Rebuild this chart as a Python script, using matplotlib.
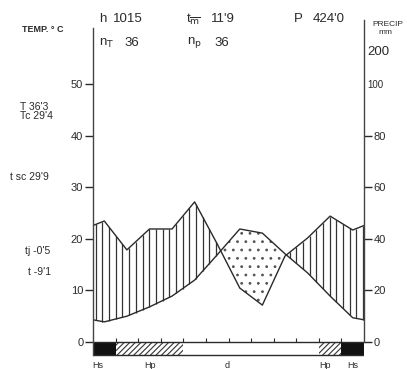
import numpy as np
import matplotlib
matplotlib.use("Agg")
import matplotlib.pyplot as plt
from matplotlib.patches import Rectangle

# ---------------- data ----------------
temp = [3.9, 5.0, 6.8, 8.9, 12.0, 16.9, 21.9, 21.1, 17.1, 13.4, 8.9, 4.7]      # °C
precip = [46.9, 35.7, 43.8, 43.8, 54.3, 38.0, 20.9, 14.3, 33.3, 40.3, 48.8, 43.4]  # mm
frost = ["Hs", "Hp", "Hp", "Hp", "d", "d", "d", "d", "d", "d", "Hp", "Hs"]
frost_labels = ["Hs", "Hp", "d", "Hp", "Hs"]
left_ticks = [0, 10, 20, 30, 40, 50]
right_ticks = [0, 20, 40, 60, 80]
right_extra = [100, 200]
extremes = ["T 36'3", "Tc 29'4", "t sc 29'9", "tj -0'5", "t -9'1"]
station_h = "1015"
station_tm = "11'9"
station_P = "424'0"
station_nT = "36"
station_nP = "36"

# ---------------- figure ----------------
W, H = 407, 369
fig = plt.figure(figsize=(W / 100, H / 100), dpi=100)
plt.rcParams["font.family"] = ["Liberation Sans", "DejaVu Sans"]
plt.rcParams["hatch.linewidth"] = 0.8
INK = "#2a2a2a"

# axes: x 0..12 -> px 93..364 ; y: 0 at px 342, 5.16 px per °C
y0px, kpx = 342.0, 5.16
top_px, bot_px = 18.0, 360.0
ax = fig.add_axes([93 / W, 1 - bot_px / H, (364 - 93) / W, (bot_px - top_px) / H])
ylo, yhi = (y0px - bot_px) / kpx, (y0px - top_px) / kpx
ax.set_xlim(0, 12)
ax.set_ylim(ylo, yhi)
ax.patch.set_alpha(0)


def px(x, y):
    return x / W, 1 - y / H


# curves (edges = mean of first and last month)
xs = np.concatenate([[0], np.arange(12) + 0.5, [12]])
t_arr = np.array(temp)
p_arr = np.array(precip) / 2.0
t_edge = (t_arr[0] + t_arr[-1]) / 2
p_edge = (p_arr[0] + p_arr[-1]) / 2
t_ext = np.concatenate([[t_edge], t_arr, [t_edge]])
p_ext = np.concatenate([[p_edge], p_arr, [p_edge]])

xf = np.linspace(0, 12, 2401)
tf = np.interp(xf, xs, t_ext)
pf = np.interp(xf, xs, p_ext)

# dry period: dotted
ax.fill_between(xf, tf, pf, where=tf >= pf, interpolate=True, facecolor="white",
                edgecolor="#555555", hatch="..", linewidth=0)

# humid period: vertical lines
xv = np.arange(0.12, 12, 0.296)
tv = np.interp(xv, xs, t_ext)
pv = np.interp(xv, xs, p_ext)
m = pv > tv
ax.vlines(xv[m], tv[m], pv[m], color="#333333", linewidth=0.9)

ax.plot(xs, t_ext, color=INK, linewidth=1.0)
ax.plot(xs, p_ext, color=INK, linewidth=1.0)

# frost bar
bar_h = 2.6
fc = {"Hs": "#111111", "Hp": "white", "d": "white"}
hc = {"Hs": None, "Hp": "//////", "d": None}
for i, f in enumerate(frost):
    ax.bar(i + 0.5, bar_h, bottom=-bar_h, width=1.0, color=fc[f], edgecolor="#333333",
           hatch=hc[f], linewidth=0)
ax.add_patch(Rectangle((0, -bar_h), 12, bar_h, fill=False, edgecolor=INK, linewidth=1.0))
ax.vlines(np.arange(1, 12), 0, 0.8, color=INK, linewidth=0.8)

# spines / ticks
for s in ["top", "bottom", "right"]:
    ax.spines[s].set_visible(False)
ax.spines["left"].set_bounds(-bar_h, (y0px - 28) / kpx)
ax.spines["left"].set_color("#444444")
ax.spines["left"].set_linewidth(1.0)
ax.set_xticks([])
ax.set_yticks(left_ticks)
ax.set_yticklabels([str(v) for v in left_ticks])
ax.tick_params(axis="y", length=6, width=1, color=INK, pad=1, labelsize=8, labelcolor=INK)

ax2 = ax.twinx()
ax2.set_ylim(ylo, yhi)
for s in ["top", "bottom", "left"]:
    ax2.spines[s].set_visible(False)
ax2.spines["right"].set_bounds(0, (y0px - 20) / kpx)
ax2.spines["right"].set_color("#444444")
ax2.spines["right"].set_linewidth(1.0)
ax2.set_yticks([v / 2 for v in right_ticks])
ax2.set_yticklabels([str(v) for v in right_ticks])
ax2.tick_params(axis="y", length=6, width=1, color=INK, pad=1, labelsize=8, labelcolor=INK)
ax2.set_xticks([])

# precipitation labels above 100 mm (compressed scale) and axis titles
fig.text(*px(367, 85), str(right_extra[0]), ha="left", va="center", fontsize=7, color=INK)
fig.text(*px(367, 52), str(right_extra[1]), ha="left", va="center", fontsize=9.5, color=INK)
fig.text(*px(388, 24), "PRECIP", ha="center", va="center", fontsize=6, color=INK)
fig.text(*px(385, 32), "mm", ha="center", va="center", fontsize=6, color=INK)

# header
fig.text(*px(22, 29), "TEMP. ° C", ha="left", va="center", fontsize=6.5, color=INK,
         fontweight="bold")
hdr = 9.5
fig.text(*px(99, 19), "h", ha="left", va="center", fontsize=hdr, color=INK)
fig.text(*px(113, 19), station_h, ha="left", va="center", fontsize=hdr, color=INK)
fig.text(*px(186, 19), r"t$_{\overline{\mathrm{m}}}$", ha="left", va="center", fontsize=hdr, color=INK)
fig.text(*px(211, 19), station_tm, ha="left", va="center", fontsize=hdr, color=INK)
fig.text(*px(294, 19), "P", ha="left", va="center", fontsize=hdr, color=INK)
fig.text(*px(313, 19), station_P, ha="left", va="center", fontsize=hdr, color=INK)
fig.text(*px(99, 43), r"n$_{\mathrm{T}}$", ha="left", va="center", fontsize=hdr, color=INK)
fig.text(*px(124, 43), station_nT, ha="left", va="center", fontsize=hdr, color=INK)
fig.text(*px(187, 43), r"n$_{\mathrm{p}}$", ha="left", va="center", fontsize=hdr, color=INK)
fig.text(*px(214, 43), station_nP, ha="left", va="center", fontsize=hdr, color=INK)

# extremes on the left
ext_pos = [(20, 107), (20, 116), (10, 177), (25, 251), (28, 272)]
for s, (x, y) in zip(extremes, ext_pos):
    fig.text(*px(x, y), s, ha="left", va="center", fontsize=7.5, color=INK)

# frost labels below bar
lab_x = [98, 150, 227, 325, 353]
for s, x in zip(frost_labels, lab_x):
    fig.text(*px(x, 366), s, ha="center", va="center", fontsize=6.5, color=INK)

fig.savefig("out.png", dpi=100, facecolor="white")
